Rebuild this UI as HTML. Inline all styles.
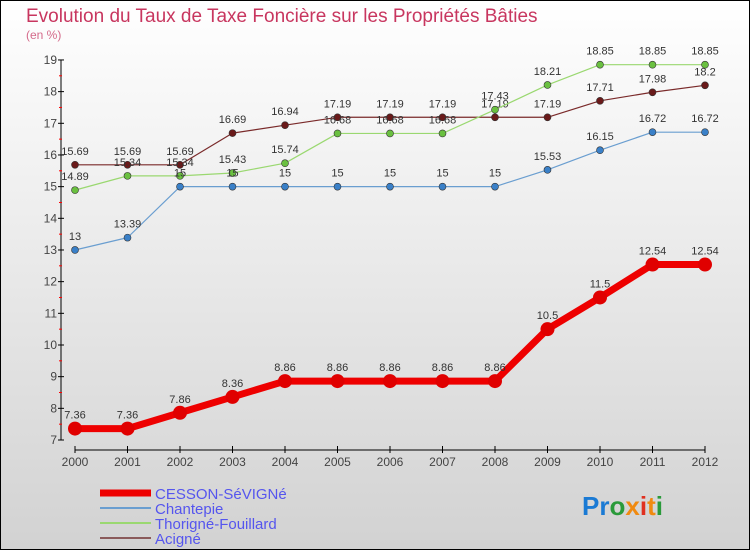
<!DOCTYPE html>
<html><head><meta charset="utf-8"><style>
body{margin:0;width:750px;height:550px;overflow:hidden}
svg{display:block;font-family:"Liberation Sans",sans-serif}
</style></head><body>
<svg id="c" width="750" height="550">
<defs><linearGradient id="bg" x1="0" y1="0" x2="0" y2="1"><stop offset="0" stop-color="#ffffff"/><stop offset="1" stop-color="#d2d2d2"/></linearGradient></defs>
<rect x="0.5" y="0.5" width="749" height="549" fill="url(#bg)" stroke="#000"/>
<text x="26" y="22" font-size="19" fill="#c8365f">Evolution du Taux de Taxe Foncière sur les Propriétés Bâties</text>
<text x="26" y="39" font-size="12" fill="#d46a8a">(en %)</text>
<g id="axes"></g><g id="series"></g><g id="legend"></g>
<text x="582" y="515" font-size="26" font-weight="bold"><tspan fill="#1a7ad4">Pr</tspan><tspan fill="#2a9a3a">o</tspan><tspan fill="#f08a10">x</tspan><tspan fill="#e03020">i</tspan><tspan fill="#f08a10">t</tspan><tspan fill="#2a9a3a">i</tspan></text>
</svg>
<script>
const years=[2000,2001,2002,2003,2004,2005,2006,2007,2008,2009,2010,2011,2012];
const yTicks=[7,8,9,10,11,12,13,14,15,16,17,18,19];
const cesson=[7.36,7.36,7.86,8.36,8.86,8.86,8.86,8.86,8.86,10.5,11.5,12.54,12.54];
const chantepie=[13,13.39,15,15,15,15,15,15,15,15.53,16.15,16.72,16.72];
const thorigne=[14.89,15.34,15.34,15.43,15.74,16.68,16.68,16.68,17.43,18.21,18.85,18.85,18.85];
const acigne=[15.69,15.69,15.69,16.69,16.94,17.19,17.19,17.19,17.19,17.19,17.71,17.98,18.2];
const names=["CESSON-SéVIGNé","Chantepie","Thorigné-Fouillard","Acigné"];
const NS="http://www.w3.org/2000/svg";
const X=i=>75+i*52.5, Y=v=>440-(v-7)*31.67;
function mk(t,a,p){const e=document.createElementNS(NS,t);for(const k in a)e.setAttribute(k,a[k]);p.appendChild(e);return e;}
const ax=document.getElementById('axes');
let l=mk('line',{x1:61,y1:Y(19),x2:61,y2:440,stroke:'#000'},ax);


l=mk('line',{x1:75,y1:450,x2:705,y2:450,stroke:'#000'},ax);


yTicks.forEach(v=>{mk('line',{x1:58,y1:Y(v),x2:64,y2:Y(v),stroke:'#000'},ax);
 const t=mk('text',{x:57,y:Y(v)+4,'font-size':12,'text-anchor':'end',fill:'#444'},ax);t.textContent=v;
 
 
 if(v<19)mk('line',{x1:59,y1:Y(v+0.5),x2:62,y2:Y(v+0.5),stroke:'#f00'},ax);});
years.forEach((y,i)=>{mk('line',{x1:X(i),y1:446,x2:X(i),y2:453,stroke:'#000'},ax);
 const t=mk('text',{x:X(i),y:466,'font-size':12,'text-anchor':'middle',fill:'#444'},ax);t.textContent=y;
 
 });
const sg=document.getElementById('series');
const cfg=[[acigne,'#7a2a2a','#6a1a1a',1.2,3.5],[thorigne,'#9ad870','#6ac040',1.2,3.5],[chantepie,'#6a9ed0','#3a80c8',1.2,3.5],[cesson,'#ee0000','#e00000',7,7]];
const keys=['acigne','thorigne','chantepie','cesson'];
cfg.forEach(([d,c,dc,w,r],k)=>{const g=mk('g',{},sg);
 
 
 mk('polyline',{points:d.map((v,i)=>X(i)+','+Y(v)).join(' '),fill:'none',stroke:c,'stroke-width':w,'stroke-linejoin':'round'},g);
 d.forEach((v,i)=>{const p=mk('circle',{cx:X(i),cy:Y(v),r:r,fill:dc,stroke:'#333','stroke-width':w>2?0:0.6},g);
  
  
  const t=mk('text',{x:X(i),y:Y(v)-10,'font-size':11,'text-anchor':'middle',fill:'#333'},g);t.textContent=v;
  
  });});
const lg=document.getElementById('legend');
const lc=[['#ee0000',7],['#6a9ed0',2],['#9ad870',2],['#8a5a5a',2]];
names.forEach((n,i)=>{const y=493+i*15;const g=mk('g',{},lg);
 
 
 mk('line',{x1:100,y1:y,x2:151,y2:y,stroke:lc[i][0],'stroke-width':lc[i][1]},g);
 const t=mk('text',{x:155,y:y+6,'font-size':15,fill:'#5555ee'},g);t.textContent=n;});
</script>
</body></html>
